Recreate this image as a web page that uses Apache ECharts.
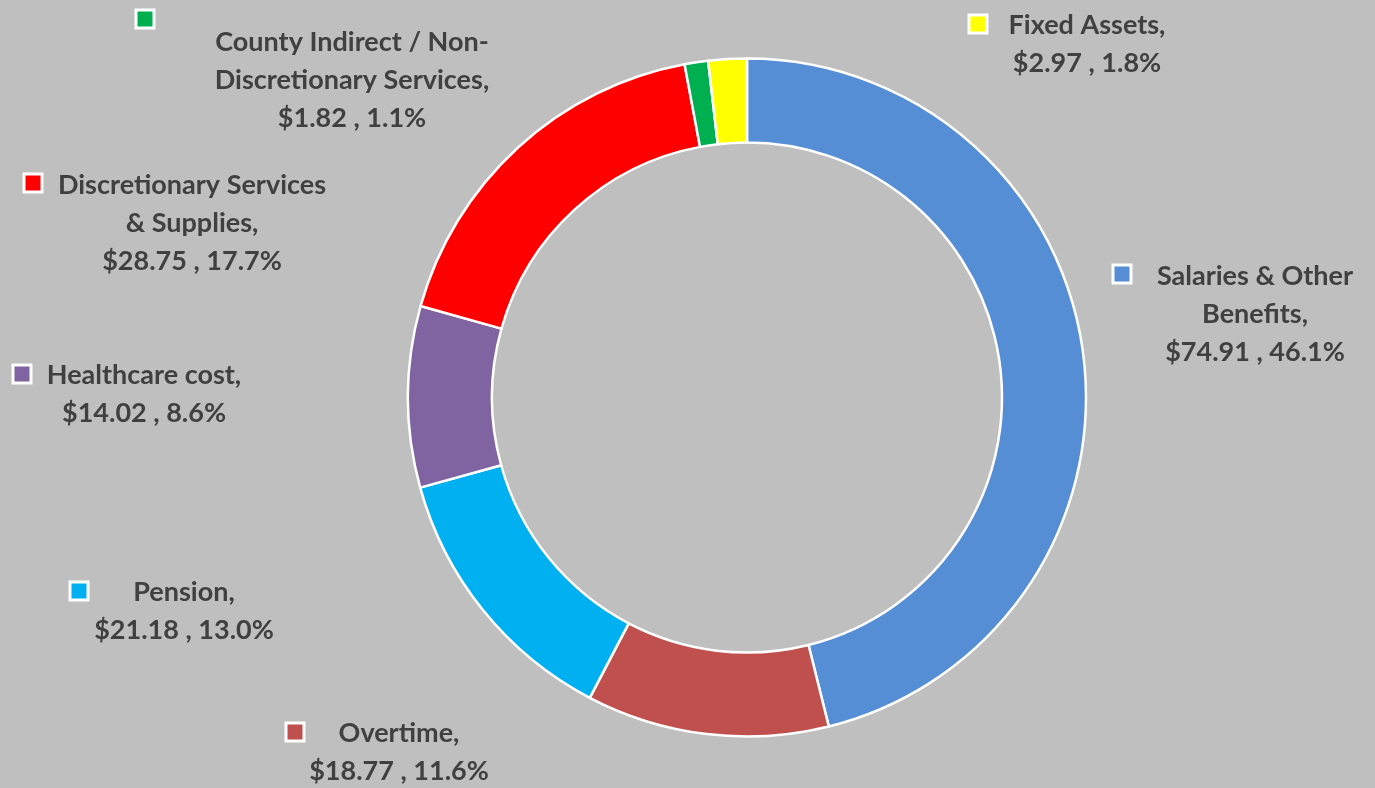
<!DOCTYPE html>
<html>
<head>
<meta charset="utf-8">
<script src="https://cdn.jsdelivr.net/npm/echarts@6/dist/echarts.min.js"></script>
<style>
  html, body { margin: 0; padding: 0; background: #bfbfbf; }
  #chart { width: 1375px; height: 788px; }
</style>
</head>
<body>
<div id="chart"></div>
<script>
// categories (line breaks follow the original label wrapping)
const categories = [
  'Salaries & Other\nBenefits',
  'Overtime',
  'Pension',
  'Healthcare cost',
  'Discretionary Services\n& Supplies',
  'County Indirect / Non-\nDiscretionary Services',
  'Fixed Assets'
];
// millions of dollars
const values = [74.91, 18.77, 21.18, 14.02, 28.75, 1.82, 2.97];
const colors = ['#558ed5', '#c0504d', '#00b0f0', '#8064a2', '#ff0000', '#00b050', '#ffff00'];

const FONT = 'Lato, "Noto Sans", sans-serif';
const LINE_H = 38;

// label placement: text centre x, first-line centre y
const textPos = [
  [1255, 276], [399, 733], [184, 592], [144, 375], [192, 185], [352, 42], [1087, 25]
];
// legend-key squares: centre x, centre y
const keyPos = [
  [1122, 274], [295, 732], [79, 591], [22, 374], [33, 183], [145, 19], [978, 24]
];

const chart = echarts.init(document.getElementById('chart'));

const ringData = categories.map((name, i) => ({
  name,
  value: values[i],
  itemStyle: { color: colors[i] }
}));

const keyData = categories.map((name, i) => ({
  name,
  value: values[i],
  label: { rich: { m: { backgroundColor: colors[i] } } }
}));

chart.setOption({
  backgroundColor: '#bfbfbf',
  animation: false,
  series: [
    {
      type: 'pie',
      center: [747, 397.5],
      radius: [255, 339],
      startAngle: 90,
      clockwise: true,
      avoidLabelOverlap: false,
      itemStyle: { borderColor: '#ffffff', borderWidth: 2.5 },
      labelLine: { show: false },
      label: {
        show: true,
        position: 'outside',
        fontFamily: FONT,
        fontSize: 27,
        fontWeight: 'bold',
        color: '#404040',
        lineHeight: LINE_H,
        align: 'center',
        formatter: p => p.name + ',\n$' + p.value.toFixed(2) + ' , ' + p.percent.toFixed(1) + '%'
      },
      labelLayout: p => ({
        x: textPos[p.dataIndex][0],
        y: textPos[p.dataIndex][1] - LINE_H / 2,
        align: 'center',
        verticalAlign: 'top'
      }),
      emphasis: { disabled: true },
      data: ringData
    },
    {
      type: 'pie',
      center: [747, 397.5],
      radius: [255, 339],
      startAngle: 90,
      clockwise: true,
      silent: true,
      z: 1,
      avoidLabelOverlap: false,
      itemStyle: { color: 'transparent', borderWidth: 0 },
      labelLine: { show: false },
      label: {
        show: true,
        position: 'outside',
        formatter: '{m|}',
        rich: {
          m: { width: 15, height: 15, borderColor: '#ffffff', borderWidth: 3 }
        }
      },
      labelLayout: p => ({
        x: keyPos[p.dataIndex][0],
        y: keyPos[p.dataIndex][1],
        align: 'center',
        verticalAlign: 'middle'
      }),
      emphasis: { disabled: true },
      data: keyData
    }
  ]
});

window.addEventListener('resize', chart.resize);
</script>
</body>
</html>
